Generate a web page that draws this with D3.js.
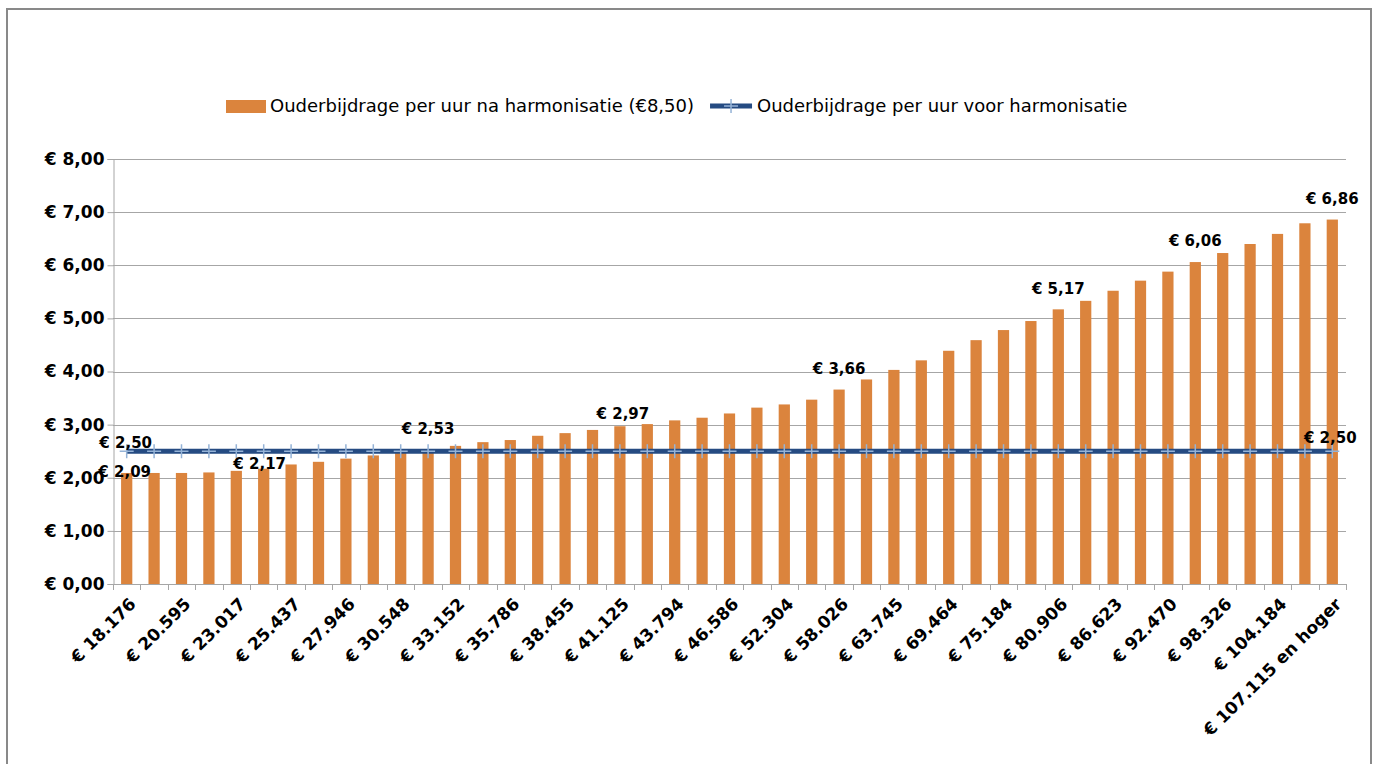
<!DOCTYPE html>
<html>
<head>
<meta charset="utf-8">
<script src="https://cdn.jsdelivr.net/npm/d3@7"></script>
<style>
  html, body { margin: 0; padding: 0; background: #fff; }
  svg { display: block; }
</style>
</head>
<body>
<svg id="chart" width="1376" height="764"></svg>
<script>
// ---------- data ----------
const tickLabels = ["€ 18.176", "€ 20.595", "€ 23.017", "€ 25.437", "€ 27.946", "€ 30.548",
  "€ 33.152", "€ 35.786", "€ 38.455", "€ 41.125", "€ 43.794", "€ 46.586", "€ 52.304",
  "€ 58.026", "€ 63.745", "€ 69.464", "€ 75.184", "€ 80.906", "€ 86.623", "€ 92.470",
  "€ 98.326", "€ 104.184", "€ 107.115 en hoger"];
// hourly contribution after harmonisation (45 income classes)
const naValues = [2.09, 2.09, 2.09, 2.10, 2.13, 2.17, 2.25, 2.30, 2.36, 2.42,
  2.48, 2.53, 2.60, 2.67, 2.71, 2.79, 2.84, 2.90, 2.97, 3.01,
  3.08, 3.13, 3.21, 3.32, 3.38, 3.47, 3.66, 3.85, 4.03, 4.21,
  4.39, 4.59, 4.78, 4.95, 5.17, 5.33, 5.52, 5.71, 5.88, 6.06,
  6.23, 6.40, 6.59, 6.79, 6.86];
// hourly contribution before harmonisation
const voorValues = naValues.map(() => 2.50);
const yTicks = [0, 1, 2, 3, 4, 5, 6, 7, 8];
const barLabelIdx = [0, 5, 11, 18, 26, 34, 39, 44];
const lineLabelIdx = [0, 44];
const seriesNames = ["Ouderbijdrage per uur na harmonisatie (€8,50)", "Ouderbijdrage per uur voor harmonisatie"];

// ---------- layout / style ----------
const W = 1376, H = 764;
const plot = { left: 113, right: 1346, top: 159, bottom: 584 };
const barColor = "#DB843D";
const lineColor = "#254B82";
const markerColor = "#95B3D7";
const gridColor = "#A6A6A6";
const boldFont = "'DejaVu Sans', sans-serif";
const barLabelNudge = { 0: [-2, 20], 5: [-4, 16], 18: [3, 9] };   // dx, dy relative to default
const lineLabelNudge = { 0: [-1, 5], 44: [-2, 0] };

const svg = d3.select("#chart");
const fmt = v => "€ " + d3.format(".2f")(v).replace(".", ",");

// outer frame
svg.append("rect").attr("x", 7).attr("y", 9).attr("width", 1364).attr("height", 820)
  .attr("fill", "none").attr("stroke", "#898989").attr("stroke-width", 2);

const x = d3.scaleBand().domain(d3.range(naValues.length)).range([plot.left, plot.right]).padding(0);
const y = d3.scaleLinear().domain([0, 8]).range([plot.bottom, plot.top]);
const bw = x.bandwidth();
const cx = i => x(i) + bw / 2;

// gridlines
svg.append("g").selectAll("line").data(yTicks).join("line")
  .attr("x1", plot.left).attr("x2", plot.right)
  .attr("y1", d => Math.round(y(d)) + 0.5).attr("y2", d => Math.round(y(d)) + 0.5)
  .attr("stroke", gridColor).attr("stroke-width", 1);

// y axis
const yAxis = d3.axisLeft(y).tickValues(yTicks).tickSize(6).tickPadding(3).tickFormat(fmt);
const gy = svg.append("g").attr("transform", `translate(${plot.left + 0.5},0)`).call(yAxis);
gy.select(".domain").attr("stroke", gridColor);
gy.selectAll(".tick line").attr("stroke", gridColor);
gy.selectAll(".tick text").attr("font-family", boldFont).attr("font-weight", "bold")
  .attr("font-size", 17).attr("fill", "#000");

// bars
const barW = bw * 0.41;
svg.append("g").selectAll("rect").data(naValues).join("rect")
  .attr("x", (d, i) => cx(i) - barW / 2)
  .attr("y", d => y(d))
  .attr("width", barW)
  .attr("height", d => y(0) - y(d))
  .attr("fill", barColor);

// x axis line and ticks at category boundaries
const gx = svg.append("g");
gx.append("line").attr("x1", plot.left).attr("x2", plot.right)
  .attr("y1", plot.bottom + 0.5).attr("y2", plot.bottom + 0.5).attr("stroke", gridColor);
gx.selectAll("line.tk").data(d3.range(naValues.length + 1)).join("line").attr("class", "tk")
  .attr("x1", i => Math.round(plot.left + i * bw) + 0.5).attr("x2", i => Math.round(plot.left + i * bw) + 0.5)
  .attr("y1", plot.bottom).attr("y2", plot.bottom + 6).attr("stroke", gridColor);

// category labels (every other category)
gx.selectAll("text").data(tickLabels).join("text")
  .attr("transform", (d, k) => `translate(${cx(k * 2) + 6},${plot.bottom + 17}) rotate(-45)`)
  .attr("text-anchor", "end").attr("dy", "0.35em")
  .attr("font-family", boldFont).attr("font-weight", "bold").attr("font-size", 17)
  .attr("fill", "#000").text(d => d);

// line series
const line = d3.line().x((d, i) => cx(i)).y(d => y(d));
svg.append("path").datum(voorValues).attr("d", line)
  .attr("fill", "none").attr("stroke", lineColor).attr("stroke-width", 5);
const ms = 7;
svg.append("g").selectAll("path").data(voorValues).join("path")
  .attr("d", (d, i) => `M${cx(i) - ms},${y(d)}H${cx(i) + ms}M${cx(i)},${y(d) - ms}V${y(d) + ms}`)
  .attr("stroke", markerColor).attr("stroke-width", 1.5).attr("fill", "none");

// data labels
svg.append("g").selectAll("text").data(barLabelIdx).join("text")
  .attr("x", i => cx(i) + (barLabelNudge[i] ? barLabelNudge[i][0] : 0))
  .attr("y", i => y(naValues[i]) - 21 + (barLabelNudge[i] ? barLabelNudge[i][1] : 0))
  .attr("dy", "0.35em").attr("text-anchor", "middle")
  .attr("font-family", boldFont).attr("font-weight", "bold").attr("font-size", 15)
  .attr("fill", "#000").text(i => fmt(naValues[i]));

svg.append("g").selectAll("text").data(lineLabelIdx).join("text")
  .attr("x", i => cx(i) + lineLabelNudge[i][0])
  .attr("y", i => y(voorValues[i]) - 13 + lineLabelNudge[i][1])
  .attr("dy", "0.35em").attr("text-anchor", "middle")
  .attr("font-family", boldFont).attr("font-weight", "bold").attr("font-size", 15)
  .attr("fill", "#000").text(i => fmt(voorValues[i]));

// legend
const lg = svg.append("g").attr("font-family", boldFont).attr("font-size", 18).attr("fill", "#000");
lg.append("rect").attr("x", 226).attr("y", 100).attr("width", 40).attr("height", 13).attr("fill", barColor);
const t1 = lg.append("text").attr("x", 270).attr("y", 106).attr("dy", "0.35em").text(seriesNames[0]);
const l2x = 270 + t1.node().getComputedTextLength() + 16;
lg.append("line").attr("x1", l2x).attr("x2", l2x + 42).attr("y1", 106).attr("y2", 106)
  .attr("stroke", lineColor).attr("stroke-width", 5);
lg.append("path").attr("d", `M${l2x + 21 - ms},106H${l2x + 21 + ms}M${l2x + 21},${106 - ms}V${106 + ms}`)
  .attr("stroke", markerColor).attr("stroke-width", 1.5);
lg.append("text").attr("x", l2x + 47).attr("y", 106).attr("dy", "0.35em").text(seriesNames[1]);
</script>
</body>
</html>
